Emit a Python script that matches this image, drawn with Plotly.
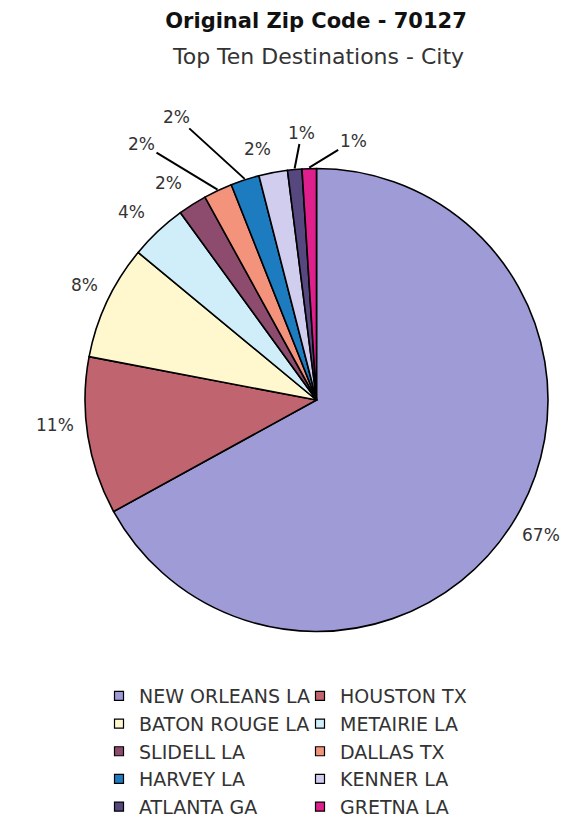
import math
import plotly.graph_objects as go

# ---------------- data ----------------
categories = ["NEW ORLEANS LA", "HOUSTON TX", "BATON ROUGE LA", "METAIRIE LA", "SLIDELL LA",
              "DALLAS TX", "HARVEY LA", "KENNER LA", "ATLANTA GA", "GRETNA LA"]
shares = [67, 11, 8, 4, 2, 2, 2, 2, 1, 1]
title_text = "Original Zip Code - 70127"
subtitle_text = "Top Ten Destinations - City"

# ---------------- style ----------------
colors = ["#9f9bd7", "#c0656f", "#fff8cf", "#cfeef9", "#8d4b6e",
          "#f4937c", "#1d7cbf", "#d0cdee", "#56477f", "#de1f8c"]
W, H = 586, 839
OFF = 8  # page margin of the html body
FONT = "DejaVu Sans"


def fx(px):
    return (px - OFF) / W


def fy(py):
    return 1 - (py - OFF) / H


dom_x = [fx(85), fx(548)]
dom_y = [fy(632), fy(168)]
label_dist = 262  # px from pie centre
# ("r", dx, dy): label on the radial ray, nudged; ("l", ax, ay): label pulled out with a leader line
label_style = [("r", -1, 2), ("r", -3, -16), ("r", 5, -3), ("r", -6, 3), ("r", -8, 4),
               ("l", -76, -46), ("l", -68, -62), ("r", -10, 6), ("l", 7, -36), ("l", 44, -27)]

fig = go.Figure()
fig.add_trace(go.Pie(
    labels=categories, values=shares, sort=False, direction="clockwise", rotation=0,
    marker=dict(colors=colors, line=dict(color="black", width=1.6)),
    textinfo="none", hoverinfo="label+percent", showlegend=False,
    domain=dict(x=dom_x, y=dom_y),
))

# legend entries (two columns -> two legends)
for i, (name, col) in enumerate(zip(categories, colors)):
    fig.add_trace(go.Scatter(
        x=[None], y=[None], mode="markers", name=name,
        marker=dict(symbol="square", size=9, color=col, line=dict(color="black", width=1.2)),
        legend="legend" if i % 2 == 0 else "legend2", showlegend=True, hoverinfo="skip",
    ))

# percentage labels computed from the slice angles (figure pixel coords)
cx = (dom_x[0] + dom_x[1]) / 2 * W
cy = (1 - (dom_y[0] + dom_y[1]) / 2) * H
radius = min((dom_x[1] - dom_x[0]) * W, (dom_y[1] - dom_y[0]) * H) / 2
total = sum(shares)
cum = 0
annotations = []
for v, st in zip(shares, label_style):
    mid = (cum + v / 2) / total * 2 * math.pi
    cum += v
    ux, uy = math.sin(mid), -math.cos(mid)
    txt = f"{round(v / total * 100)}%"
    if st[0] == "r":
        px = cx + label_dist * ux + st[1]
        py = cy + label_dist * uy + st[2]
        annotations.append(dict(x=px / W, y=1 - py / H, xref="paper", yref="paper", text=txt,
                                showarrow=False, font=dict(family=FONT, size=17, color="#333"),
                                xanchor="center", yanchor="middle"))
    else:
        ex = cx + (radius + 1) * ux
        ey = cy + (radius + 1) * uy
        annotations.append(dict(x=ex / W, y=1 - ey / H, xref="paper", yref="paper", text=txt,
                                showarrow=True, ax=st[1], ay=st[2], arrowhead=0, arrowwidth=2,
                                arrowcolor="black", standoff=0, startstandoff=0,
                                font=dict(family=FONT, size=17, color="#333")))

annotations.append(dict(x=fx(318), y=fy(57), xref="paper", yref="paper", text=subtitle_text,
                        showarrow=False, xanchor="center", yanchor="middle",
                        font=dict(family=FONT, size=22, color="#333")))

legend_common = dict(yanchor="top", xanchor="left", bgcolor="rgba(0,0,0,0)",
                     font=dict(family=FONT, size=19, color="#333"), tracegroupgap=0,
                     orientation="v")

fig.update_layout(
    width=W, height=H, autosize=False,
    margin=dict(l=0, r=0, t=0, b=0),
    paper_bgcolor="white", plot_bgcolor="white",
    title=dict(text=f"<b>{title_text}</b>", x=fx(316), xanchor="center",
               y=fy(21), yanchor="middle", yref="container",
               font=dict(family=FONT, size=21, color="#111")),
    annotations=annotations,
    legend=dict(x=fx(99), y=fy(677), **legend_common),
    legend2=dict(x=fx(300), y=fy(677), **legend_common),
    xaxis=dict(visible=False), yaxis=dict(visible=False),
)

fig.write_html("out.html")
